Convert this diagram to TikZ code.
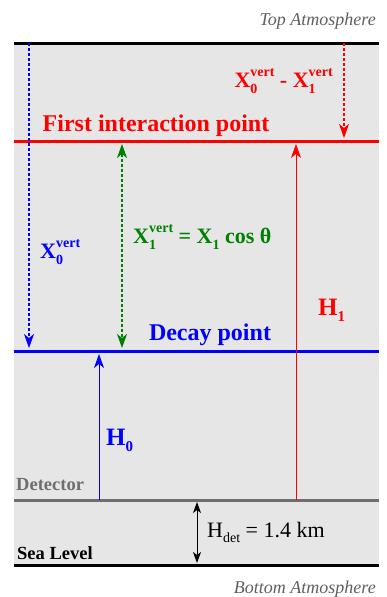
\documentclass[tikz,border=0pt]{standalone}
\usepackage{fontspec}
\setmainfont{Liberation Serif}
\usetikzlibrary{arrows.meta}

\definecolor{skygray}{RGB}{230,230,230}
\definecolor{detgray}{RGB}{110,110,110}
\definecolor{labgray}{RGB}{95,95,95}
\definecolor{vgreen}{RGB}{0,128,0}

\newcommand{\bigsz}{\fontsize{24}{26}\selectfont}
\newcommand{\labsz}{\fontsize{22}{24}\selectfont}
\newcommand{\supsz}{\fontsize{14}{15}\selectfont}
\newcommand{\Xvert}[1]{X\rlap{\raisebox{-0.28em}{\supsz #1}}\raisebox{0.5em}{\supsz vert}}
\newcommand{\Xsub}[1]{X\raisebox{-0.28em}{\supsz #1}}

\tikzset{
    level/.style={line width=3pt},
    measure/.style={line width=1pt, -{Stealth[length=14pt,width=10pt,inset=4pt]}},
    depth/.style={line width=1.2pt, dash pattern=on 3pt off 2pt, -{Stealth[length=14pt,width=10pt,inset=4pt]}},
    lab/.style={inner sep=0pt, font=\labsz\bfseries},
    edge/.style={inner sep=0pt, font=\fontsize{18}{20}\selectfont\itshape, text=labgray}
}

\begin{document}
\begin{tikzpicture}[x=1pt, y=-1pt]
    \useasboundingbox (0,0) rectangle (386,597);
    \fill[skygray] (14,43) rectangle (379,565);

    % levels
    \coordinate (top-l) at (14,43);   \coordinate (top-r) at (379,43);
    \coordinate (int-l) at (14,141);  \coordinate (int-r) at (379,141);
    \coordinate (dec-l) at (14,351);  \coordinate (dec-r) at (379,351);
    \coordinate (det-l) at (14,500);  \coordinate (det-r) at (379,500);
    \coordinate (sea-l) at (14,565);  \coordinate (sea-r) at (379,565);

    \draw[level, black] (top-l) -- (top-r);
    \draw[level, red] (int-l) -- (int-r);
    \draw[level, blue] (dec-l) -- (dec-r);
    \draw[level, detgray] (det-l) -- (det-r);
    \draw[level, black] (sea-l) -- (sea-r);

    % vertical depths and heights
    \draw[depth, blue] (29,43) -- (29,348);
    \draw[depth, vgreen, {Stealth[length=14pt,width=10pt,inset=4pt]}-{Stealth[length=14pt,width=10pt,inset=4pt]}] (122,144) -- (122,348);
    \draw[depth, red] (344,43) -- (344,138);
    \draw[measure, red] (296,500) -- (296,144);
    \draw[measure, blue] (99,500) -- (99,354);
    \draw[line width=1pt, {Stealth[length=11pt,width=8pt,inset=3pt]}-{Stealth[length=11pt,width=8pt,inset=3pt]}] (197,502) -- (197,563);

    % labels
    \node[edge, anchor=base east] (top) at (376,25) {Top Atmosphere};
    \node[edge, anchor=base east] (bottom) at (376,593) {Bottom Atmosphere};
    \node[inner sep=0pt, anchor=base, font=\bigsz\bfseries, text=red] (first) at (156,131) {First interaction point};
    \node[inner sep=0pt, anchor=base, font=\bigsz\bfseries, text=blue] (decay) at (210,340) {Decay point};
    \node[inner sep=0pt, anchor=base west, font=\fontsize{18.5}{20}\selectfont\bfseries, text=detgray] (detector) at (16,490) {Detector};
    \node[inner sep=0pt, anchor=base west, font=\fontsize{18.5}{20}\selectfont\bfseries] (sea) at (17,559) {Sea Level};

    \node[lab, anchor=base east, text=red] (xdiff) at (333,87) {\Xvert{0} - \Xvert{1}};
    \node[lab, anchor=base west, text=blue] (x0) at (40,258) {\Xvert{0}};
    \node[lab, anchor=base west, text=vgreen] (x1) at (133,243) {\Xvert{1} = \Xsub{1} cos θ};
    \node[lab, anchor=base west, text=red, font=\fontsize{25}{27}\selectfont\bfseries] (h1) at (318,315) {H\raisebox{-0.25em}{\fontsize{15}{16}\selectfont 1}};
    \node[lab, anchor=base west, text=blue, font=\fontsize{25}{27}\selectfont\bfseries] (h0) at (106,445) {H\raisebox{-0.25em}{\fontsize{15}{16}\selectfont 0}};
    \node[inner sep=0pt, anchor=base west, font=\fontsize{22}{24}\selectfont] (hdet) at (207,537) {H\raisebox{-0.25em}{\fontsize{14}{15}\selectfont det} = 1.4 km};
\end{tikzpicture}
\end{document}
